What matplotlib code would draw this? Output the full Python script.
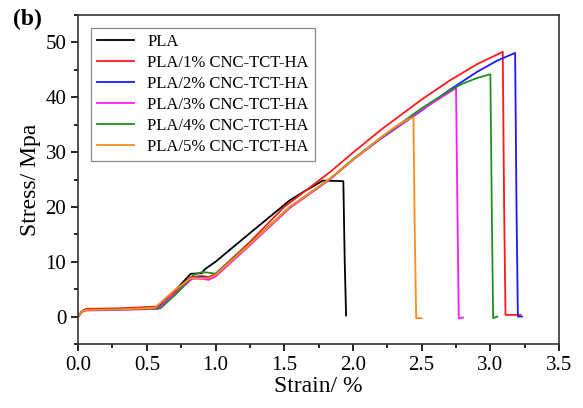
import matplotlib.pyplot as plt
from matplotlib.ticker import MultipleLocator

plt.rcParams['font.family'] = ['Liberation Serif', 'DejaVu Serif']

# strain (%) / stress (MPa)
pla_x = [0, 0.03, 0.06, 0.3, 0.57, 0.7, 0.82, 0.9, 0.92, 0.96, 1.0, 1.23, 1.54, 1.65, 1.72, 1.78, 1.93, 1.94, 1.95]
pla_y = [0, 1.0, 1.3, 1.4, 1.7, 4.6, 7.8, 7.9, 8.6, 9.3, 10.0, 14.8, 21.2, 22.9, 23.9, 24.8, 24.7, 10.0, 0.2]

p1_x = [0, 0.03, 0.06, 0.3, 0.57, 0.7, 0.82, 0.9, 0.95, 1.0, 1.25, 1.5, 1.83, 2.0, 2.2, 2.5, 2.7, 2.9, 3.09, 3.10, 3.11, 3.22]
p1_y = [0, 1.0, 1.4, 1.5, 1.8, 4.5, 7.2, 7.4, 7.2, 7.8, 13.6, 20.0, 26.3, 29.9, 34.0, 39.6, 43.0, 46.0, 48.3, 20.0, 0.3, 0.3]

p2_x = [0, 0.03, 0.06, 0.3, 0.58, 0.7, 0.83, 0.9, 0.95, 1.0, 1.25, 1.54, 1.83, 2.0, 2.2, 2.5, 2.7, 2.9, 3.05, 3.18, 3.19, 3.2, 3.23]
p2_y = [0, 1.0, 1.2, 1.3, 1.5, 4.0, 7.0, 7.2, 7.0, 7.6, 13.2, 19.9, 25.0, 28.6, 32.4, 37.6, 41.3, 44.6, 46.7, 48.1, 20.0, 0.0, 0.0]

p3_x = [0, 0.03, 0.06, 0.3, 0.58, 0.7, 0.83, 0.9, 0.95, 1.0, 1.25, 1.54, 1.83, 2.0, 2.2, 2.5, 2.75, 2.76, 2.77, 2.8]
p3_y = [0, 0.9, 1.1, 1.2, 1.4, 4.0, 6.9, 6.9, 6.7, 7.3, 13.0, 19.8, 25.0, 28.6, 32.5, 37.7, 41.7, 20.0, -0.3, -0.2]

p4_x = [0, 0.03, 0.06, 0.3, 0.6, 0.72, 0.84, 0.9, 0.95, 1.0, 1.25, 1.54, 1.83, 2.0, 2.2, 2.5, 2.7, 2.8, 2.9, 3.0, 3.01, 3.02, 3.05]
p4_y = [0, 1.0, 1.2, 1.3, 1.5, 4.3, 7.6, 8.1, 8.0, 7.8, 13.3, 20.0, 25.1, 28.7, 32.6, 38.0, 41.2, 42.5, 43.5, 44.2, 20.0, -0.3, 0.0]

p5_x = [0, 0.03, 0.06, 0.3, 0.56, 0.7, 0.82, 0.9, 0.95, 1.0, 1.25, 1.54, 1.83, 2.0, 2.2, 2.3, 2.4, 2.44, 2.45, 2.46, 2.5]
p5_y = [0, 1.0, 1.2, 1.3, 1.6, 4.8, 7.0, 7.0, 7.0, 7.6, 13.2, 20.0, 25.1, 28.6, 32.6, 34.5, 36.0, 36.3, 15.0, -0.3, -0.3]

series = [
    (pla_x, pla_y, 'black', 'PLA'),
    (p1_x, p1_y, '#ff1a1a', 'PLA/1% CNC-TCT-HA'),
    (p2_x, p2_y, '#1a1aff', 'PLA/2% CNC-TCT-HA'),
    (p3_x, p3_y, '#ff1aff', 'PLA/3% CNC-TCT-HA'),
    (p4_x, p4_y, '#1f8f1f', 'PLA/4% CNC-TCT-HA'),
    (p5_x, p5_y, '#ff8c1a', 'PLA/5% CNC-TCT-HA'),
]

fig = plt.figure(figsize=(5.83, 4.08), dpi=100)
ax = fig.add_axes([0.134, 0.157, 0.825, 0.806])

for x, y, c, lab in series:
    ax.plot(x, y, color=c, lw=1.3, label=lab)

ax.set_xlim(0, 3.5)
ax.set_ylim(-5, 55)
ax.xaxis.set_major_locator(MultipleLocator(0.5))
ax.xaxis.set_minor_locator(MultipleLocator(0.25))
ax.yaxis.set_major_locator(MultipleLocator(10))
ax.yaxis.set_minor_locator(MultipleLocator(5))
ax.tick_params(which='both', direction='out', width=1.2, labelsize=15, top=False, right=False)
ax.tick_params(which='major', length=5)
ax.tick_params(which='minor', length=3)
for s in ax.spines.values():
    s.set_linewidth(1.2)
    s.set_color('#333333')

ax.set_xlabel('Strain/ %', fontsize=17, labelpad=1)
ax.set_ylabel('Stress/ Mpa', fontsize=17, labelpad=3)

leg = ax.legend(loc='upper left', fontsize=12, handlelength=2.2, labelspacing=0.3,
                fancybox=False, edgecolor='#888888', framealpha=1,
                borderaxespad=0.8, borderpad=0.35)
leg.get_frame().set_linewidth(0.9)

fig.text(0.022, 0.978, '(b)', fontsize=17, fontweight='bold', va='top')

fig.savefig('out.png', dpi=100)
